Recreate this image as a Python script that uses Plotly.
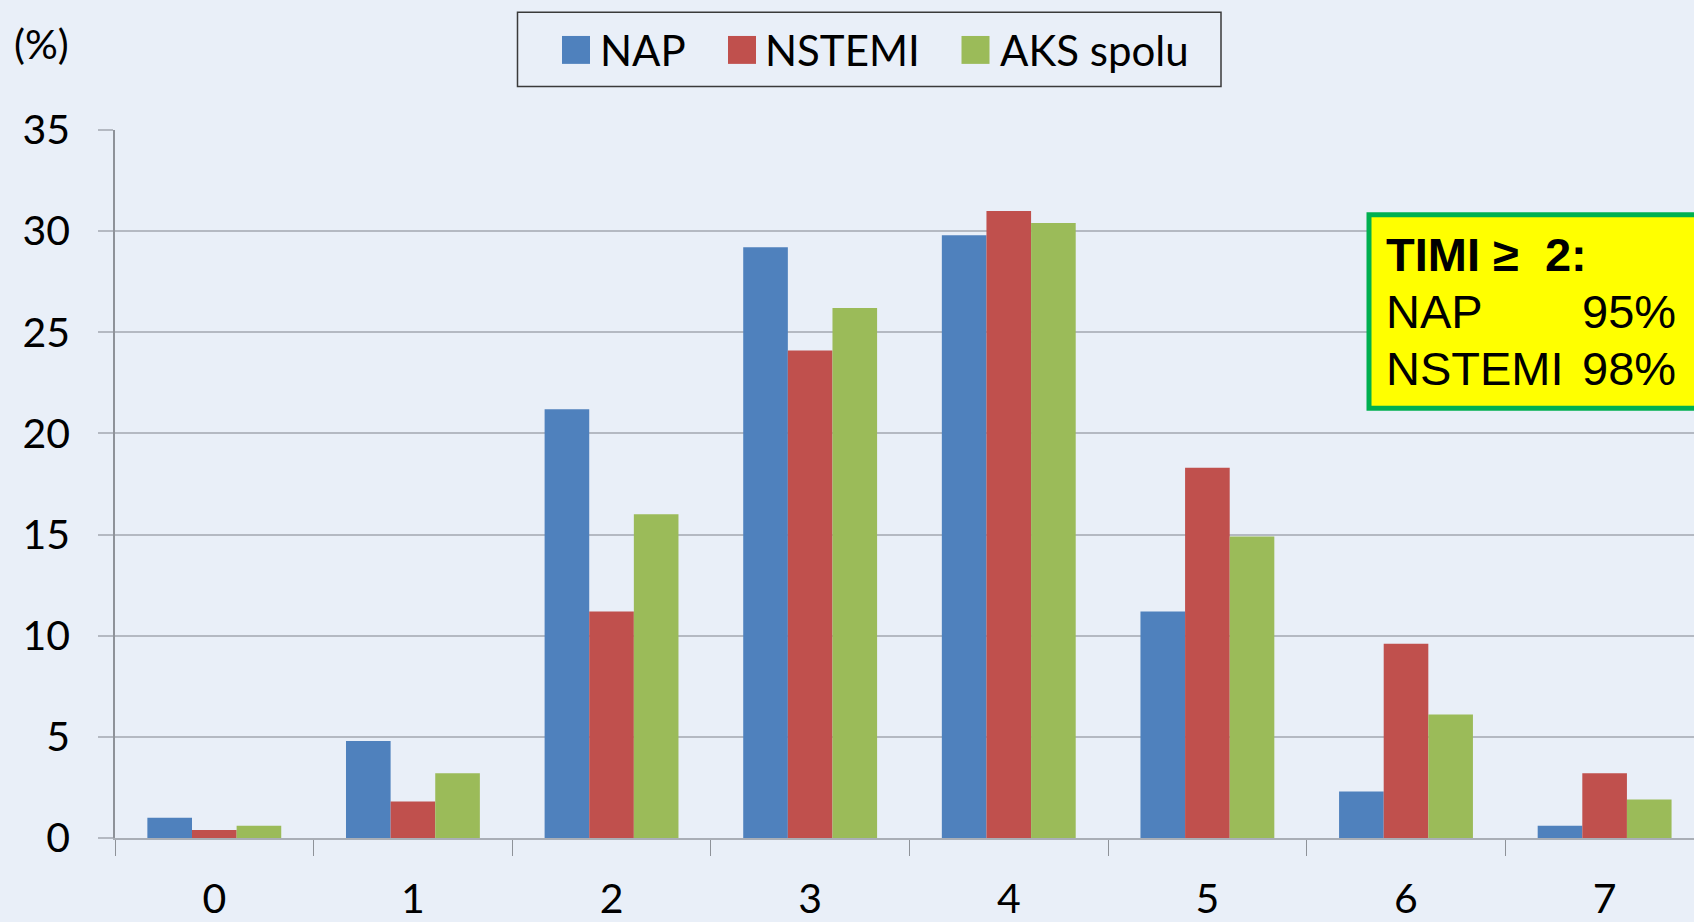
import plotly.graph_objects as go

categories = ["0", "1", "2", "3", "4", "5", "6", "7"]
nap = [1.0, 4.8, 21.2, 29.2, 29.8, 11.2, 2.3, 0.6]
nstemi = [0.4, 1.8, 11.2, 24.1, 31.0, 18.3, 9.6, 3.2]
aks = [0.6, 3.2, 16.0, 26.2, 30.4, 14.9, 6.1, 1.9]
series_names = ["NAP", "NSTEMI", "AKS spolu"]
colors = ["#4F81BD", "#C0504D", "#9BBB59"]
y_ticks = [0, 5, 10, 15, 20, 25, 30, 35]

BG = "#E9EFF8"
FONT = "Lato"

fig = go.Figure()
for name, vals, col in zip(series_names, [nap, nstemi, aks], colors):
    fig.add_trace(go.Bar(x=categories, y=vals, name=name, marker_color=col,
                         marker_line_width=0, showlegend=False))

W, H = 1694, 922
L, R, T, B = 115, 0, 130, 82
pw, ph = W - L - R, H - T - B

def px(x):
    return (x - L) / pw

def py(y):
    return (H - B - y) / ph

fig.update_layout(
    width=W, height=H,
    margin=dict(l=L, r=R, t=T, b=B, pad=0),
    paper_bgcolor=BG, plot_bgcolor=BG,
    barmode="group", bargap=0.326, bargroupgap=0,
    font=dict(family=FONT, color="#000000"),
    xaxis=dict(type="category", range=[-0.5, 7.45], tickson="boundaries",
               ticks="outside", ticklen=16, tickcolor="#8E9299", tickwidth=1,
               showline=True, linecolor="#A9AEB6", linewidth=2,
               showgrid=False, tickfont=dict(size=41, family=FONT),
               ticklabelstandoff=24),
    yaxis=dict(range=[0, 35], tickvals=y_ticks, ticks="outside", ticklen=15,
               tickcolor="#B4B9C2", tickwidth=2,
               showgrid=True, gridcolor="#B4B9C2", gridwidth=2,
               zeroline=False, showline=True, linecolor="#8E9299", linewidth=1.5,
               tickfont=dict(size=41, family=FONT), ticklabelstandoff=20),
)

# legend (drawn as a box with swatches and labels)
fig.add_shape(type="rect", xref="paper", yref="paper",
              x0=px(517.5), x1=px(1221), y0=py(86.4), y1=py(12),
              fillcolor=BG, line=dict(color="#3a3a3a", width=1.5))
sw_x = [562, 728, 961.5]
tx_x = [601.8, 767, 1001.5]
for name, col, sx, tx in zip(series_names, colors, sw_x, tx_x):
    fig.add_shape(type="rect", xref="paper", yref="paper",
                  x0=px(sx), x1=px(sx + 28), y0=py(63.7), y1=py(35.7),
                  fillcolor=col, line=dict(width=0))
    fig.add_annotation(xref="paper", yref="paper", x=px(tx - 4), y=py(49.7), text=name,
                       showarrow=False, xanchor="left", yanchor="middle",
                       font=dict(size=42, family=FONT))

# (%) label
fig.add_annotation(xref="paper", yref="paper", x=px(41), y=py(43), text="(%)",
                   showarrow=False, font=dict(size=41, family=FONT),
                   xanchor="center", yanchor="middle")

# yellow box
fig.add_shape(type="rect", xref="paper", yref="paper",
              x0=px(1369), x1=px(1720), y0=py(409), y1=py(215),
              fillcolor="#FFFF00", line=dict(color="#00B050", width=5), layer="above")

AF = "Liberation Sans"
lines = [(255, "<b>TIMI ≥  2:</b>", None), (312, "NAP", "95%"), (369.5, "NSTEMI", "98%")]
for yy, left, right in lines:
    fig.add_annotation(xref="paper", yref="paper", x=px(1384), y=py(yy), text=left,
                       showarrow=False, xanchor="left", yanchor="middle",
                       font=dict(size=47, family=AF, color="#000000"))
    if right:
        fig.add_annotation(xref="paper", yref="paper", x=px(1678), y=py(yy), text=right,
                           showarrow=False, xanchor="right", yanchor="middle",
                           font=dict(size=47, family=AF, color="#000000"))

fig.write_html("out.html", config={"displayModeBar": False},
               post_script="document.body.style.margin='0';document.body.style.overflow='hidden';")
